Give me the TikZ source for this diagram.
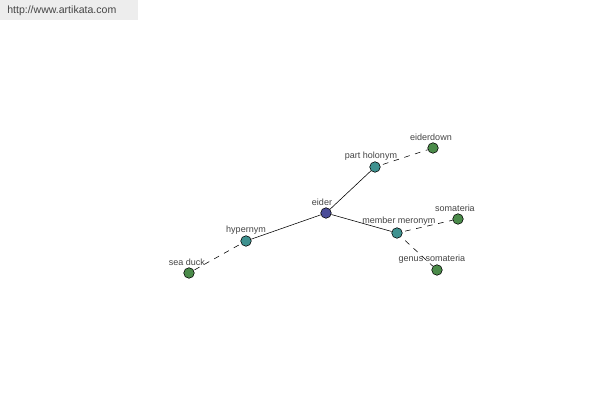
\documentclass[tikz,border=0pt]{standalone}
\usepackage{fontspec}
\setmainfont{Liberation Sans}
\usepackage{xcolor}
\definecolor{rootblue}{HTML}{4A4C98}
\definecolor{relteal}{HTML}{3F9290}
\definecolor{leafgreen}{HTML}{4B8B4A}
\definecolor{labelgrey}{HTML}{444444}
\tikzset{
  dot/.style={circle, draw=black, line width=0.4pt, minimum size=7.5pt, inner sep=0pt},
  word/.style={font=\fontsize{6.4}{7}\selectfont, text=labelgrey, inner sep=0pt},
  rel/.style={line width=0.4pt},
  link/.style={line width=0.4pt, dash pattern=on 4pt off 4pt}
}
\begin{document}
\begin{tikzpicture}[x=0.025cm, y=-0.025cm]
\useasboundingbox[fill=white] (0,0) rectangle (600,400);
\fill[black!7] (0,0) rectangle (138,20);
\node[font=\fontsize{7.5}{9}\selectfont, text=labelgrey, anchor=west, inner sep=0pt] (site) at (7,11) {http://www.artikata.com};

\node[dot, fill=rootblue] (eider) at (326,213) {};
\node[dot, fill=relteal] (holo) at (375,167) {};
\node[dot, fill=leafgreen] (down) at (433,148) {};
\node[dot, fill=relteal] (hyper) at (246,241) {};
\node[dot, fill=leafgreen] (duck) at (189,273) {};
\node[dot, fill=relteal] (mero) at (397,233) {};
\node[dot, fill=leafgreen] (soma) at (458,219) {};
\node[dot, fill=leafgreen] (genus) at (437,270) {};

\node[word] (eiderL) at (322,202) {eider};
\node[word] (holoL) at (371,156) {part holonym};
\node[word] (downL) at (431,137) {eiderdown};
\node[word] (hyperL) at (246,230) {hypernym};
\node[word] (duckL) at (187,262) {sea duck};
\node[word] (meroL) at (399,221) {member meronym};
\node[word] (somaL) at (455,208) {somateria};
\node[word] (genusL) at (432,259) {genus somateria};

\draw[rel] (eider)--(holo);
\draw[rel] (eider)--(hyper);
\draw[rel] (eider)--(mero);
\draw[link, shorten <=2pt] (holo)--(down);
\draw[link, shorten <=2pt] (hyper)--(duck);
\draw[link, shorten <=2pt] (mero)--(soma);
\draw[link, shorten <=4pt] (mero)--(genus);
\end{tikzpicture}
\end{document}
